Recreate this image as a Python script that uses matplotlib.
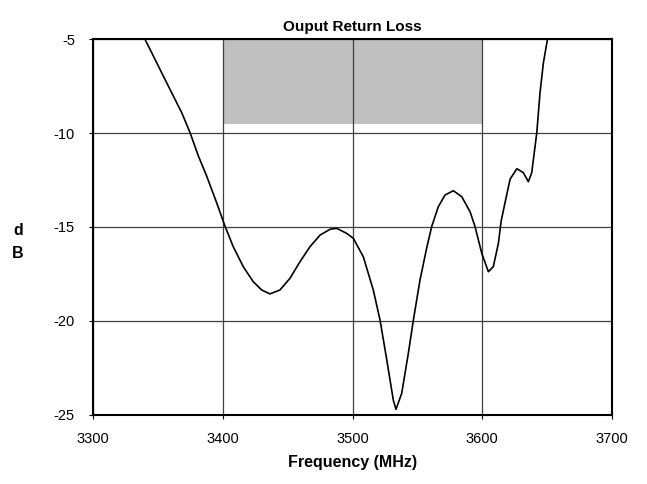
import matplotlib
matplotlib.use("Agg")
import matplotlib.pyplot as plt

plt.rcParams['font.family'] = ['Liberation Sans', 'DejaVu Sans']
plt.rcParams['axes.unicode_minus'] = False

freq = [3340.1, 3346.5, 3354.2, 3361.9, 3368.4, 3374.8, 3381.2, 3387.6, 3395.3, 3401.7,
        3408.1, 3415.8, 3423.5, 3430.0, 3436.4, 3444.1, 3451.8, 3459.5, 3467.2, 3475.0,
        3482.7, 3487.8, 3495.5, 3500.6, 3508.3, 3516.0, 3521.2, 3526.4, 3531.4, 3533.5,
        3537.9, 3543.0, 3546.9, 3552.0, 3557.2, 3561.0, 3566.1, 3571.3, 3577.7, 3584.2,
        3590.6, 3594.4, 3599.6, 3604.7, 3608.5, 3612.4, 3614.5, 3617.5, 3621.4, 3626.6,
        3631.6, 3635.5, 3638.1, 3640.7, 3642.0, 3644.5, 3647.1, 3650.2]
loss = [-5.02, -5.9, -6.97, -8.03, -8.92, -9.98, -11.22, -12.29, -13.71, -14.95,
        -16.05, -17.11, -17.91, -18.35, -18.56, -18.35, -17.73, -16.85, -16.05, -15.43,
        -15.12, -15.07, -15.34, -15.6, -16.58, -18.35, -19.95, -22.07, -24.2, -24.7,
        -23.85, -21.72, -19.95, -17.82, -16.1, -14.98, -13.92, -13.3, -13.07, -13.39,
        -14.19, -14.98, -16.4, -17.38, -17.11, -15.87, -14.7, -13.71, -12.46, -11.9,
        -12.11, -12.59, -12.11, -10.69, -9.98, -7.85, -6.26, -5.02]

band = [3400, 3600]
band_limit = -9.5
xticks = [3300, 3400, 3500, 3600, 3700]
yticks = [-25, -20, -15, -10, -5]

fig = plt.figure(figsize=(6.47, 4.84), dpi=100)
ax = fig.add_axes([0.1437, 0.1426, 0.8023, 0.7768])

ax.fill_between(band, band_limit, -5, color='#c0c0c0', lw=0, zorder=1)
ax.plot(freq, loss, color='black', lw=1.2, zorder=3, solid_joinstyle='round')

ax.set_xlim(3300, 3700)
ax.set_ylim(-25, -5)
ax.set_xticks(xticks)
ax.set_yticks(yticks)
ax.grid(True, color='#404040', lw=0.9, zorder=2)
ax.set_axisbelow(False)
for s in ax.spines.values():
    s.set_linewidth(1.5)
    s.set_zorder(4)
ax.tick_params(direction='out', length=3, labelsize=10.5)
ax.tick_params(axis='y', pad=10)
ax.tick_params(axis='x', pad=9)

ax.set_title('Ouput Return Loss', fontsize=11, fontweight='bold', pad=6)
ax.set_xlabel('Frequency (MHz)', fontsize=11.5, fontweight='bold', labelpad=7)
fig.text(0.028, 0.5, 'd\nB', fontsize=11.5, fontweight='bold', ha='center', va='center',
         linespacing=1.6)

fig.savefig('out.png', dpi=100)
